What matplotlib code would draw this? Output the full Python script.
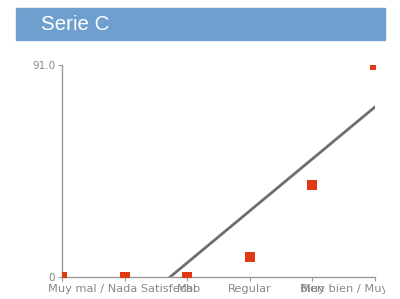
import matplotlib.pyplot as plt
import numpy as np
from matplotlib.patches import Rectangle
from matplotlib.transforms import Bbox, TransformedBbox

categorias = ['', 'Muy mal / Nada Satisfecho', 'Mal', 'Regular', 'Bien',
              'Muy bien / Muy satisfecho']
valores = [0, 0, 0, 8.6, 39.5, 91.0]
# trend line (slope per category, intercept)
tend_pendiente = 22.3
tend_origen = -38.5

fig = plt.figure(figsize=(4, 2.99), dpi=100)

# title band
fig.patches.append(Rectangle((16/400, 1-40/299), 369/400, 32/299,
                             transform=fig.transFigure, color='#6f9fcf', zorder=0))
fig.text(41/400, 1-24/299, 'Serie C', color='white', fontsize=14.8,
         family='Liberation Sans', va='center', ha='left')

ax = fig.add_axes([62/400, 22/299, 313/400, 212/299])
x = np.arange(len(categorias))

xl = np.array([x[0], x[-1]])
ax.plot(xl, tend_pendiente*xl + tend_origen, color='#6e6e6e', lw=2, zorder=2)
ax.plot(x, valores, 's', color='#e03a12', ms=6.5, mew=0, zorder=3)

ax.set_xlim(0, 5)
ax.set_ylim(0, 91)
ax.set_xticks(x)
ax.set_xticklabels(categorias)
ax.set_yticks([0, 91])
ax.set_yticklabels(['0', '91.0'])

for s in ['top', 'right']:
    ax.spines[s].set_visible(False)
for s in ['left', 'bottom']:
    ax.spines[s].set_color('#999999')
    ax.spines[s].set_linewidth(1)
ax.tick_params(axis='x', colors='#999999', labelcolor='#888888', labelsize=8.2,
               length=3, pad=2)
ax.tick_params(axis='y', colors='#999999', labelcolor='#888888', labelsize=7.5,
               length=3, pad=2)

clip = TransformedBbox(Bbox([[0, 0], [385/400, 1]]), fig.transFigure)
for lab in ax.get_xticklabels():
    lab.set_clip_box(clip)
    lab.set_clip_on(True)

plt.savefig('out.png', dpi=100)
